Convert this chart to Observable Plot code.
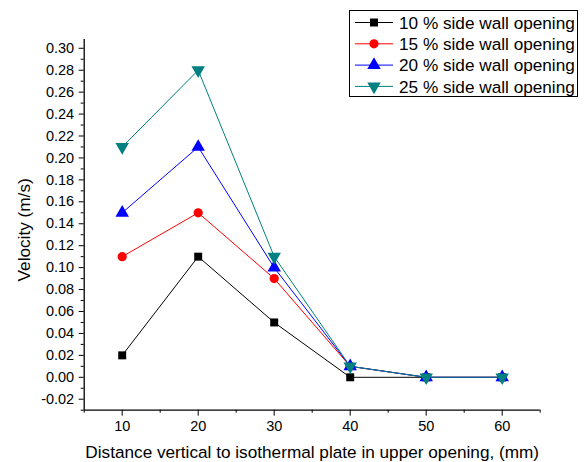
<!DOCTYPE html>
<html>
<head>
<meta charset="utf-8">
<script src="https://cdn.jsdelivr.net/npm/d3@7"></script>
<script src="https://cdn.jsdelivr.net/npm/@observablehq/plot@0.6"></script>
<style>
  html, body { margin: 0; padding: 0; background: #fff; }
  #wrap { position: relative; width: 587px; height: 462px; font-family: "Liberation Sans", Arial, sans-serif; }
  #legend { position: absolute; left: 349px; top: 10px; }
</style>
</head>
<body>
<div id="wrap"><div id="chart"></div><div id="legend"></div></div>
<script>
// ---- data ----
const distances = [10, 20, 30, 40, 50, 60];
const seriesNames = ["10 % side wall opening", "15 % side wall opening", "20 % side wall opening", "25 % side wall opening"];
const v10 = [0.02, 0.11, 0.05, 0.00, 0.00, 0.00];
const v15 = [0.11, 0.15, 0.09, 0.01, 0.00, 0.00];
const v20 = [0.15, 0.21, 0.10, 0.01, 0.00, 0.00];
const v25 = [0.21, 0.28, 0.11, 0.01, 0.00, 0.00];
const xTicks = [10, 20, 30, 40, 50, 60];
const xMinorTicks = [5, 15, 25, 35, 45, 55, 65];
const yTicks = [-0.02, 0.00, 0.02, 0.04, 0.06, 0.08, 0.10, 0.12, 0.14, 0.16, 0.18, 0.20, 0.22, 0.24, 0.26, 0.28, 0.30];
const yMinorTicks = [-0.03, -0.01, 0.01, 0.03, 0.05, 0.07, 0.09, 0.11, 0.13, 0.15, 0.17, 0.19, 0.21, 0.23, 0.25, 0.27, 0.29];
const xLabel = "Distance vertical to isothermal plate in upper opening, (mm)";
const yLabel = "Velocity (m/s)";

// ---- styling ----
const colors = ["#000000", "#ff0000", "#0000ff", "#008080"];
const triangleDown = {
  draw(context, size) {
    const y = -Math.sqrt(size / (Math.sqrt(3) * 3));
    context.moveTo(0, -y * 2);
    context.lineTo(-Math.sqrt(3) * y, y);
    context.lineTo(Math.sqrt(3) * y, y);
    context.closePath();
  }
};
const symbols = ["square", "circle", "triangle", triangleDown];
const radii = [4.5, 4.6, 5.0, 5.0];

const allValues = [v10, v15, v20, v25];
const tables = allValues.map((vals, i) => distances.map((d, j) => ({x: d, y: vals[j], s: seriesNames[i]})));

const fmt = v => v.toFixed(2);
const tickFont = 14.5;

const marks = [
  Plot.ruleX([5], {stroke: "#000", strokeWidth: 1.3}),
  Plot.ruleY([-0.03], {stroke: "#000", strokeWidth: 1.3}),
  Plot.axisX(xTicks, {tickSize: 6, tickFormat: () => "", label: null, stroke: "#000"}),
  Plot.axisX(xMinorTicks, {tickSize: 3, tickFormat: () => "", label: null, stroke: "#000"}),
  Plot.axisY(yTicks, {tickSize: 5, tickFormat: () => "", label: null, stroke: "#000"}),
  Plot.axisY(yMinorTicks, {tickSize: 3, tickFormat: () => "", label: null, stroke: "#000"}),
  Plot.text(xTicks, {x: d => d, frameAnchor: "bottom", lineAnchor: "middle", dy: 16.5, text: d => String(d), fontSize: tickFont, fill: "#000"}),
  Plot.text(yTicks, {y: d => d, frameAnchor: "left", textAnchor: "end", dx: -10, text: fmt, fontSize: tickFont, fill: "#000"}),
  Plot.text([xLabel], {frameAnchor: "bottom", lineAnchor: "middle", textAnchor: "middle", dy: 42.5, fontSize: 17.2, fill: "#000"}),
  Plot.text([yLabel], {frameAnchor: "left", textAnchor: "middle", lineAnchor: "middle", rotate: -90, dx: -60, dy: 5, fontSize: 17.2, fill: "#000"})
];
tables.forEach((t, i) => {
  marks.push(Plot.line(t, {x: "x", y: "y", stroke: colors[i], strokeWidth: 1}));
});
tables.forEach((t, i) => {
  marks.push(Plot.dot(t, {x: "x", y: "y", symbol: symbols[i], fill: colors[i], stroke: "none", r: radii[i]}));
});

const chart = Plot.plot({
  width: 587,
  height: 462,
  marginLeft: 83.7,
  marginRight: 47.3,
  marginTop: 39,
  marginBottom: 52.3,
  x: {domain: [5, 65]},
  y: {domain: [-0.03, 0.308]},
  style: {fontFamily: "'Liberation Sans', Arial, sans-serif", fontSize: "14.5px", color: "#000", background: "#fff", overflow: "visible"},
  marks
});
document.getElementById("chart").appendChild(chart);

// ---- legend ----
const lw = 228, lh = 86;
const lsvg = d3.select("#legend").append("svg").attr("width", lw + 1).attr("height", lh + 1)
  .style("font-family", "'Liberation Sans', Arial, sans-serif");
lsvg.append("rect").attr("x", 0.5).attr("y", 0.5).attr("width", lw).attr("height", lh)
  .attr("fill", "#fff").attr("stroke", "#000").attr("stroke-width", 1);
seriesNames.forEach((name, i) => {
  const cy = 12.5 + i * 21.3;
  const g = lsvg.append("g");
  g.append("line").attr("x1", 6).attr("x2", 44).attr("y1", cy).attr("y2", cy)
    .attr("stroke", colors[i]).attr("stroke-width", 1);
  const symType = typeof symbols[i] === "string"
    ? ({square: d3.symbolSquare, circle: d3.symbolCircle, triangle: d3.symbolTriangle})[symbols[i]]
    : symbols[i];
  g.append("path").attr("d", d3.symbol(symType, Math.PI * radii[i] * radii[i])())
    .attr("transform", `translate(25,${cy})`).attr("fill", colors[i]);
  g.append("text").attr("x", 50).attr("y", cy).attr("dy", "0.36em")
    .attr("font-size", 17.2).attr("fill", "#000").text(name);
});
</script>
</body>
</html>
